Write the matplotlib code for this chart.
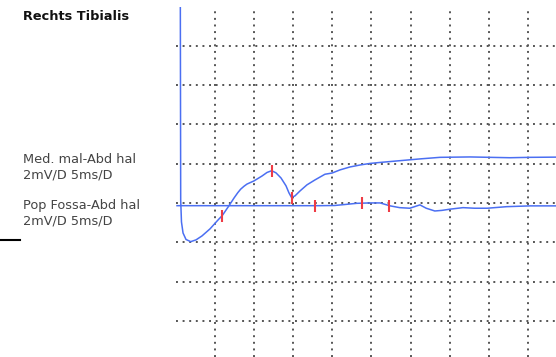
import matplotlib.pyplot as plt
from matplotlib.lines import Line2D

# time in ms (5 ms/div), amplitude in mV (2 mV/div)
med_mal_t = [0.55, 0.60, 0.70, 0.90, 1.28, 1.88, 2.56, 3.32, 4.35, 5.37, 5.92, 6.78,
             7.42, 7.9, 8.27, 8.7, 9.08, 9.97, 11.0, 11.64, 12.24, 12.79, 13.43, 14.07,
             14.45, 14.77, 15.22, 15.86, 16.75, 17.77, 19.05, 19.95, 20.97, 22.25, 23.53,
             24.81, 26.09, 28.64, 31.2, 33.76, 37.6, 40.15, 42.7, 45.27, 48.6]
med_mal_mv = [11.0, 0.15, -0.97, -1.53, -1.86, -1.97, -1.88, -1.68, -1.32, -0.87, -0.64,
              -0.14, 0.25, 0.52, 0.70, 0.85, 0.96, 1.12, 1.37, 1.55, 1.64, 1.53, 1.27,
              0.87, 0.51, 0.28, 0.36, 0.61, 0.92, 1.17, 1.46, 1.52, 1.68, 1.83, 1.93,
              2.01, 2.06, 2.15, 2.24, 2.32, 2.34, 2.32, 2.30, 2.32, 2.33]

pop_fossa_t = [0.13, 18.4, 20.3, 21.6, 23.1, 24.8, 26.1, 27.4, 28.6, 29.9, 31.2, 32.0,
               33.1, 34.0, 35.0, 36.7, 38.2, 39.8, 42.3, 45.3, 48.6]
pop_fossa_mv = [-0.14, -0.14, -0.13, -0.08, -0.02, 0.0, 0.0, -0.15, -0.24, -0.27, -0.10,
                -0.27, -0.41, -0.38, -0.32, -0.24, -0.27, -0.27, -0.19, -0.15, -0.15]

# cursor markers (latency / peak positions)
marker_t = [5.92, 12.24, 14.83, 17.77, 23.75, 27.24]
marker_mv = [-0.65, 1.63, 0.25, -0.15, -0.02, -0.17]

title = "Rechts Tibialis"
labels = [("Med. mal-Abd hal", "2mV/D 5ms/D"), ("Pop Fossa-Abd hal", "2mV/D 5ms/D")]

blue = '#4b6ff2'
red = '#ee3b45'
grid_col = '#555555'

fig = plt.figure(figsize=(5.56, 3.57), dpi=100)
ax = fig.add_axes([176 / 556, 0, 380 / 556, 350 / 357])
ax.set_xlim(0, 48.6)
ax.set_ylim(-7.84, 9.97)
ax.axis('off')

dots = (0, (1, 2.4))
for k in range(1, 10):
    ax.axvline(5 * k, color=grid_col, lw=1.4, ls=dots, zorder=1)
for k in range(-3, 5):
    ax.axhline(2 * k, color=grid_col, lw=1.4, ls=dots, zorder=1)

ax.plot(med_mal_t, med_mal_mv, color=blue, lw=1.1, zorder=3)
ax.plot(pop_fossa_t, pop_fossa_mv, color=blue, lw=1.1, zorder=3)

half = 0.3
ax.vlines(marker_t, [m - half for m in marker_mv], [m + half for m in marker_mv],
          color=red, lw=1.5, zorder=4)

fig.text(23 / 556, 1 - 16 / 357, title, fontsize=9.3, fontweight='bold',
         color='#111111', va='center', ha='left')
for (l1, l2), ytop in zip(labels, [153, 199]):
    fig.text(23 / 556, 1 - ytop / 357, l1 + "\n" + l2, fontsize=9.3, color='#444444',
             va='top', ha='left', linespacing=1.25)

fig.add_artist(Line2D([0, 20 / 556], [1 - 240 / 357] * 2, color='black', lw=1.5))

fig.savefig('out.png', dpi=100)
